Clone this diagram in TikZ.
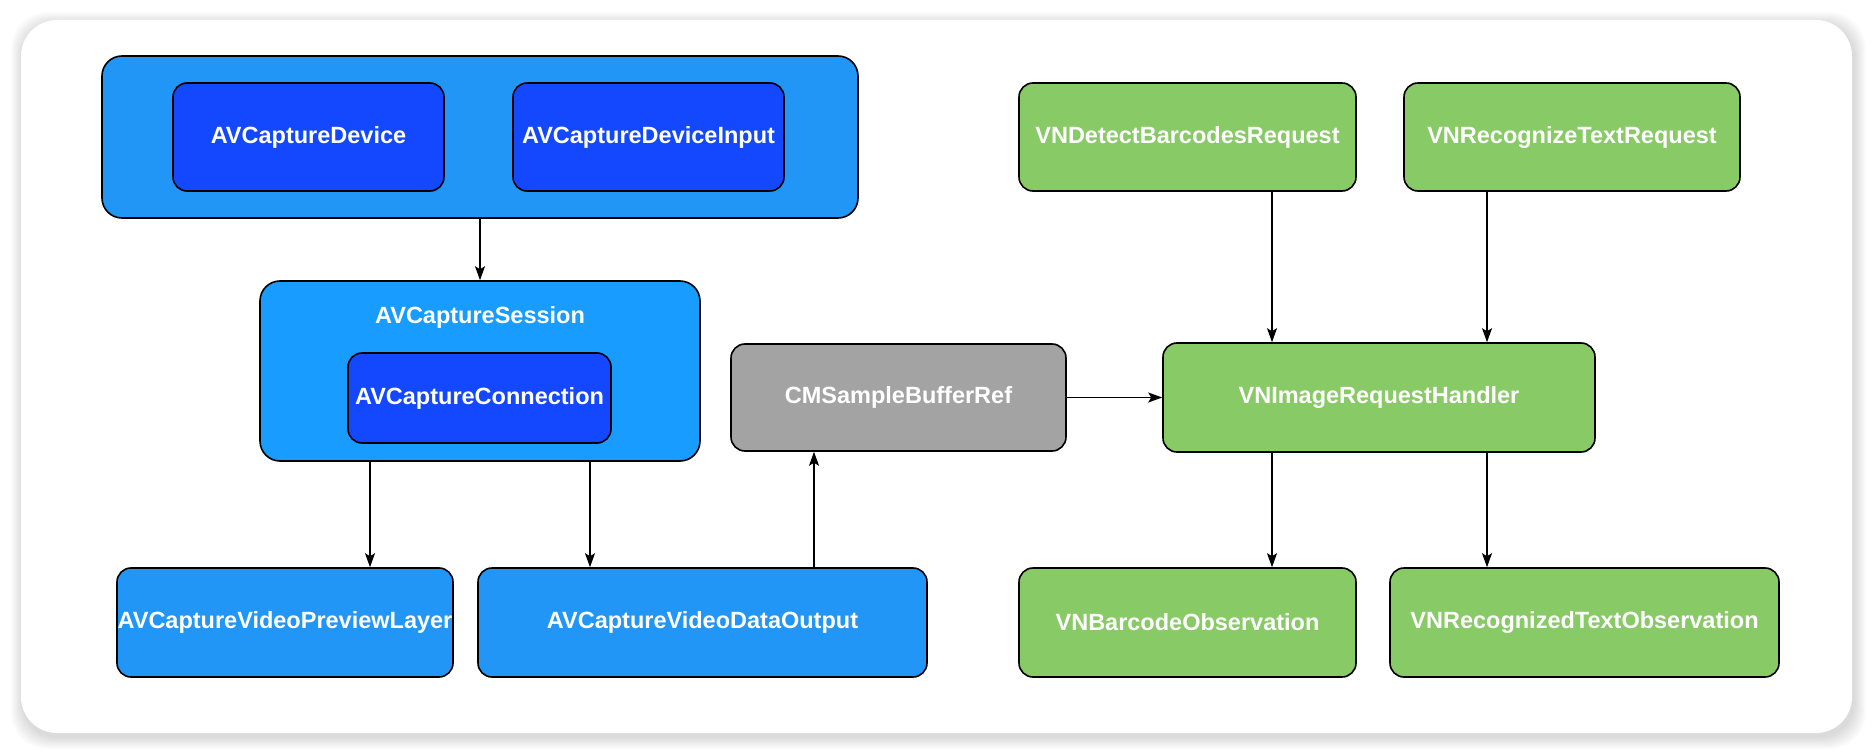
\documentclass[tikz,border=0pt]{standalone}
\usepackage{fontspec}
\setmainfont{Liberation Sans}
\usetikzlibrary{arrows.meta,calc}
\definecolor{contblue}{HTML}{2196F7}
\definecolor{sessblue}{HTML}{199CFF}
\definecolor{darkblue}{HTML}{1448FF}
\definecolor{vngreen}{HTML}{88CA66}
\definecolor{cmsgray}{HTML}{A3A3A3}
\tikzset{
  box/.style={draw=black, line width=1.6pt, rounded corners=14pt, text=white,
    font=\bfseries\fontsize{23.5}{26}\selectfont, inner sep=0pt, align=center},
  outerbox/.style={box, rounded corners=20pt},
  arr/.style={draw=black, line width=1.4pt, -{Stealth[length=14pt,width=10pt,inset=3pt]}}
}
\begin{document}
\begin{tikzpicture}[x=1pt,y=-1pt]
\useasboundingbox (0,0) rectangle (1872,754);
\fill[white] (0,0) rectangle (1872,754);
% panel shadow
\foreach \s in {1,...,12}{
  \fill[black, opacity=0.012, rounded corners=36pt]
    ({21-\s+2},{20-\s+4}) rectangle ({1852+\s+2},{733+\s+4});
}
\fill[white, rounded corners=36pt] (21,20) rectangle (1852,733);

% top container
\node[outerbox, fill=contblue, minimum width=756pt, minimum height=162pt] (top) at (480,137) {};
\node[box, fill=darkblue, minimum width=271pt, minimum height=108pt] (dev) at (308.5,137) {AVCaptureDevice};
\node[box, fill=darkblue, minimum width=271pt, minimum height=108pt] (devin) at (648.5,137) {AVCaptureDeviceInput};

% session
\node[outerbox, fill=sessblue, minimum width=440pt, minimum height=180pt] (session) at (480,371) {};
\node[text=white, font=\bfseries\fontsize{23.5}{26}\selectfont] (sesslabel) at (480,317) {AVCaptureSession};
\node[box, fill=darkblue, minimum width=263pt, minimum height=90pt] (conn) at (479.5,398) {AVCaptureConnection};

% outputs
\node[box, fill=contblue, minimum width=336pt, minimum height=109pt] (preview) at (285,622.5) {AVCaptureVideoPreviewLayer};
\node[box, fill=contblue, minimum width=449pt, minimum height=109pt] (dataout) at (702.5,622.5) {AVCaptureVideoDataOutput};

% sample buffer
\node[box, fill=cmsgray, minimum width=335pt, minimum height=107pt] (cms) at (898.5,397.5) {CMSampleBufferRef};

% vision
\node[box, fill=vngreen, minimum width=432pt, minimum height=109pt] (handler) at (1379,397.5) {VNImageRequestHandler};
\node[box, fill=vngreen, minimum width=337pt, minimum height=108pt] (barreq) at (1187.5,137) {VNDetectBarcodesRequest};
\node[box, fill=vngreen, minimum width=336pt, minimum height=108pt] (textreq) at (1572,137) {VNRecognizeTextRequest};
\node[box, fill=vngreen, minimum width=337pt, minimum height=109pt] (barobs) at (1187.5,622.5) {VNBarcodeObservation};
\node[box, fill=vngreen, minimum width=389pt, minimum height=109pt] (textobs) at (1584.5,622.5) {VNRecognizedTextObservation};

% connectors
\draw[arr] (top.south) -- (session.north);
\draw[arr] ([xshift=-110pt]session.south) -- ([xshift=-110pt]session.south |- preview.north);
\draw[arr] ([xshift=110pt]session.south) -- ([xshift=110pt]session.south |- dataout.north);
\draw[arr] ([xshift=111.5pt]dataout.north) -- ([xshift=111.5pt]dataout.north |- cms.south);
\draw[arr] (cms.east) -- (handler.west);
\draw[arr] ([xshift=84.5pt]barreq.south) -- ([xshift=84.5pt]barreq.south |- handler.north);
\draw[arr] ([xshift=-85pt]textreq.south) -- ([xshift=-85pt]textreq.south |- handler.north);
\draw[arr] ([xshift=-107pt]handler.south) -- ([xshift=-107pt]handler.south |- barobs.north);
\draw[arr] ([xshift=108pt]handler.south) -- ([xshift=108pt]handler.south |- textobs.north);
\end{tikzpicture}
\end{document}
